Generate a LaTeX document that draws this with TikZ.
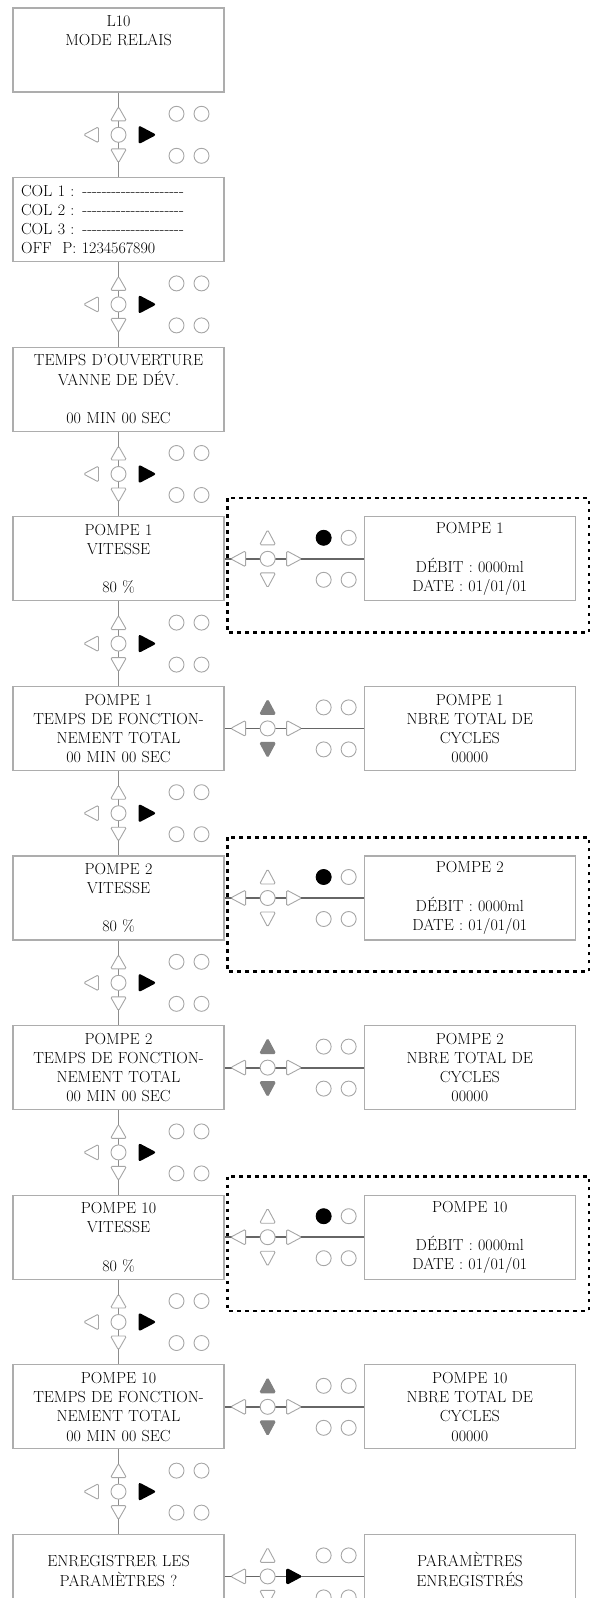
\documentclass[tikz,border=0pt]{standalone}
\usetikzlibrary{positioning,calc}

\newcommand{\dashrow}{\foreach \i in {1,...,21}{-\kern0pt}}

\begin{document}
\begin{tikzpicture}[x=1pt,y=1pt,font=\fontsize{16pt}{19.2pt}\selectfont,
  box/.style={draw=black!32,line width=1.3pt,fill=white,minimum height=84pt,text width=195pt,inner xsep=8pt,inner ysep=2pt,align=center},
  link/.style={draw=black!45,line width=1.6pt},
  hlink/.style={draw=black!60,line width=1.8pt},
  pad/.style={draw=black!35,line width=0.9pt,fill=white,rounded corners=1.5pt},
  upkey/.style={pad},okkey/.style={pad},lamp/.style={pad},
  dotframe/.style={draw,line width=2.6pt,dash pattern=on 3.5pt off 4.5pt},
  vpad/.pic={
    \draw[pad] (0,28) -- (-8,14) -- (8,14) -- cycle;
    \draw[pad] (0,-28) -- (-8,-14) -- (8,-14) -- cycle;
    \draw[pad] (0,0) circle[radius=7.5pt];
    \draw[pad] (-35,0) -- (-20,8) -- (-20,-8) -- cycle;
    \fill[rounded corners=2.5pt] (38,0) -- (20,9.5) -- (20,-9.5) -- cycle;
    \foreach \x in {58,83} {\draw[pad] (\x,21) circle[radius=7.5pt]; \draw[pad] (\x,-21) circle[radius=7.5pt];}
  },
  hpad/.pic={
    \draw[upkey] (0,29) -- (-8,14) -- (8,14) -- cycle;
    \draw[upkey] (0,-29) -- (-8,-14) -- (8,-14) -- cycle;
    \draw[pad] (0,0) circle[radius=7.5pt];
    \draw[pad] (-37,0) -- (-22,8) -- (-22,-8) -- cycle;
    \draw[okkey] (34,0) -- (19,8) -- (19,-8) -- cycle;
    \draw[lamp] (56,21) circle[radius=7.5pt];
    \draw[pad] (81,21) circle[radius=7.5pt];
    \draw[pad] (56,-21) circle[radius=7.5pt];
    \draw[pad] (81,-21) circle[radius=7.5pt];
  }]
\useasboundingbox (0,0) rectangle (589,-1598);
\node[box] (relais) at (118.5,-50) {L10\\MODE RELAIS\\~\\~};
\node[box,below=84.3pt of relais,align=left] (col) {COL 1 : \dashrow\\COL 2 : \dashrow\\COL 3 : \dashrow\\OFF\ \ P: 1234567890};
\node[box,below=84.3pt of col] (vanne) {TEMPS D'OUVERTURE\\VANNE DE DÉV.\\~\\00 MIN 00 SEC};
\node[box,below=84.3pt of vanne] (vit1) {POMPE 1\\VITESSE\\~\\80 \%};
\node[box,below=84.3pt of vit1] (tps1) {POMPE 1\\TEMPS DE FONCTION-\\NEMENT TOTAL\\00 MIN 00 SEC};
\node[box,below=84.3pt of tps1] (vit2) {POMPE 2\\VITESSE\\~\\80 \%};
\node[box,below=84.3pt of vit2] (tps2) {POMPE 2\\TEMPS DE FONCTION-\\NEMENT TOTAL\\00 MIN 00 SEC};
\node[box,below=84.3pt of tps2] (vit10) {POMPE 10\\VITESSE\\~\\80 \%};
\node[box,below=84.3pt of vit10] (tps10) {POMPE 10\\TEMPS DE FONCTION-\\NEMENT TOTAL\\00 MIN 00 SEC};
\node[box,below=84.3pt of tps10] (save) {~\\ENREGISTRER LES\\PARAMÈTRES ?\\~};
\node[box,right=139pt of vit1] (deb1) {POMPE 1\\~\\DÉBIT : 0000ml\\DATE : 01/01/01};
\node[box,right=139pt of tps1] (cyc1) {POMPE 1\\NBRE TOTAL DE\\CYCLES\\00000};
\node[box,right=139pt of vit2] (deb2) {POMPE 2\\~\\DÉBIT : 0000ml\\DATE : 01/01/01};
\node[box,right=139pt of tps2] (cyc2) {POMPE 2\\NBRE TOTAL DE\\CYCLES\\00000};
\node[box,right=139pt of vit10] (deb10) {POMPE 10\\~\\DÉBIT : 0000ml\\DATE : 01/01/01};
\node[box,right=139pt of tps10] (cyc10) {POMPE 10\\NBRE TOTAL DE\\CYCLES\\00000};
\node[box,right=139pt of save] (saved) {~\\PARAMÈTRES\\ENREGISTRÉS\\~};
\draw[link] (relais) -- (col);
\draw[link] (col) -- (vanne);
\draw[link] (vanne) -- (vit1);
\draw[link] (vit1) -- (tps1);
\draw[link] (tps1) -- (vit2);
\draw[link] (vit2) -- (tps2);
\draw[link] (tps2) -- (vit10);
\draw[link] (vit10) -- (tps10);
\draw[link] (tps10) -- (save);
\draw[hlink] (vit1) -- (deb1);
\draw[hlink] (tps1) -- (cyc1);
\draw[hlink] (vit2) -- (deb2);
\draw[hlink] (tps2) -- (cyc2);
\draw[hlink] (vit10) -- (deb10);
\draw[hlink] (tps10) -- (cyc10);
\draw[hlink] (save) -- (saved);
\pic at ($(relais.south)!0.5!(col.north)$) {vpad};
\pic at ($(col.south)!0.5!(vanne.north)$) {vpad};
\pic at ($(vanne.south)!0.5!(vit1.north)$) {vpad};
\pic at ($(vit1.south)!0.5!(tps1.north)$) {vpad};
\pic at ($(tps1.south)!0.5!(vit2.north)$) {vpad};
\pic at ($(vit2.south)!0.5!(tps2.north)$) {vpad};
\pic at ($(tps2.south)!0.5!(vit10.north)$) {vpad};
\pic at ($(vit10.south)!0.5!(tps10.north)$) {vpad};
\pic at ($(tps10.south)!0.5!(save.north)$) {vpad};
\pic[lamp/.style={pad,fill=black,draw=black}] at ([xshift=43pt]vit1.east) {hpad};
\pic[upkey/.style={pad,fill=black!50,draw=black!50}] at ([xshift=43pt]tps1.east) {hpad};
\pic[lamp/.style={pad,fill=black,draw=black}] at ([xshift=43pt]vit2.east) {hpad};
\pic[upkey/.style={pad,fill=black!50,draw=black!50}] at ([xshift=43pt]tps2.east) {hpad};
\pic[lamp/.style={pad,fill=black,draw=black}] at ([xshift=43pt]vit10.east) {hpad};
\pic[upkey/.style={pad,fill=black!50,draw=black!50}] at ([xshift=43pt]tps10.east) {hpad};
\pic[okkey/.style={pad,fill=black,draw=black}] at ([xshift=43pt]save.east) {hpad};
\draw[dotframe] ([xshift=3pt,yshift=18pt]vit1.north east) rectangle ([xshift=13pt,yshift=-31pt]deb1.south east);
\draw[dotframe] ([xshift=3pt,yshift=18pt]vit2.north east) rectangle ([xshift=13pt,yshift=-31pt]deb2.south east);
\draw[dotframe] ([xshift=3pt,yshift=18pt]vit10.north east) rectangle ([xshift=13pt,yshift=-31pt]deb10.south east);
\end{tikzpicture}
\end{document}
